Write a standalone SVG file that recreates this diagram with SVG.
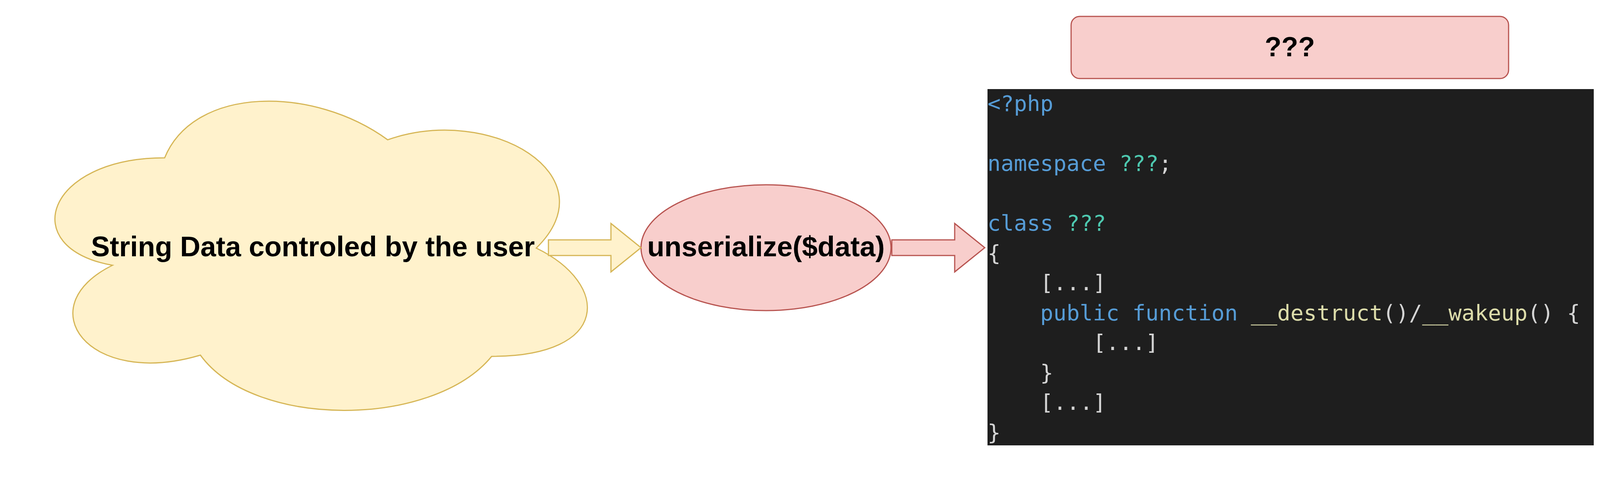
<svg xmlns="http://www.w3.org/2000/svg" width="4124" height="1244" viewBox="0 0 4124 1244">
<style>
.yl{fill:#fff2cc;stroke:#d6b656;stroke-width:3}
.rd{fill:#f8cecc;stroke:#b85450;stroke-width:3}
.lbl{font-family:"Liberation Sans",Arial,sans-serif;font-weight:bold;font-size:72px;fill:#000;text-anchor:middle}
.code{font-family:"DejaVu Sans Mono",monospace;font-size:56px;fill:#d4d4d4;white-space:pre}
.kw{fill:#569cd6}
.ty{fill:#4ec9b0}
.fn{fill:#dcdcaa}
</style>
<rect width="4124" height="1244" fill="#ffffff"/>
<g id="cloud">
<path class="yl" d="M 421.5 404 C 117.1 404 41 635 288 679 C 72.5 785 225 994.5 513 909 C 649.8 1097 1106.4 1097 1258.6 912.2 C 1563 912.2 1563 727.4 1372.8 635 C 1563 450.2 1258.6 265.4 992.3 357.8 C 802 219.2 497.6 219.2 421.5 404 Z"/>
<text class="lbl" x="801" y="656">String Data controled by the user</text>
</g>
<g id="unserialize">
<ellipse class="rd" cx="1961" cy="634" rx="320" ry="161"/>
<text class="lbl" x="1961" y="656">unserialize($data)</text>
</g>
<g id="question">
<rect class="rd" x="2742" y="42" width="1120" height="159" rx="22" ry="22"/>
<text class="lbl" x="3302" y="144" style="font-size:70px">???</text>
</g>
<g id="code">
<rect x="2528" y="228" width="1552" height="912" fill="#1e1e1e"/>
<text class="code" x="2528" y="284"><tspan class="kw">&lt;?php</tspan></text>
<text class="code" x="2528" y="437"><tspan class="kw">namespace</tspan> <tspan class="ty">???</tspan>;</text>
<text class="code" x="2528" y="590"><tspan class="kw">class</tspan> <tspan class="ty">???</tspan></text>
<text class="code" x="2528" y="666.5">{</text>
<text class="code" x="2528" y="743">    [...]</text>
<text class="code" x="2528" y="819.5">    <tspan class="kw">public</tspan> <tspan class="kw">function</tspan> <tspan class="fn">__destruct</tspan>()/<tspan class="fn">__wakeup</tspan>() {</text>
<text class="code" x="2528" y="896">        [...]</text>
<text class="code" x="2528" y="972.5">    }</text>
<text class="code" x="2528" y="1049">    [...]</text>
<text class="code" x="2528" y="1125.5">}</text>
</g>
<g id="connectors">
<polygon class="yl" points="1404,614 1564,614 1564,572 1641,634 1564,696 1564,654 1404,654"/>
<polygon class="rd" points="2283,614 2444,614 2444,572 2521,634 2444,696 2444,654 2283,654"/>
</g>
</svg>
